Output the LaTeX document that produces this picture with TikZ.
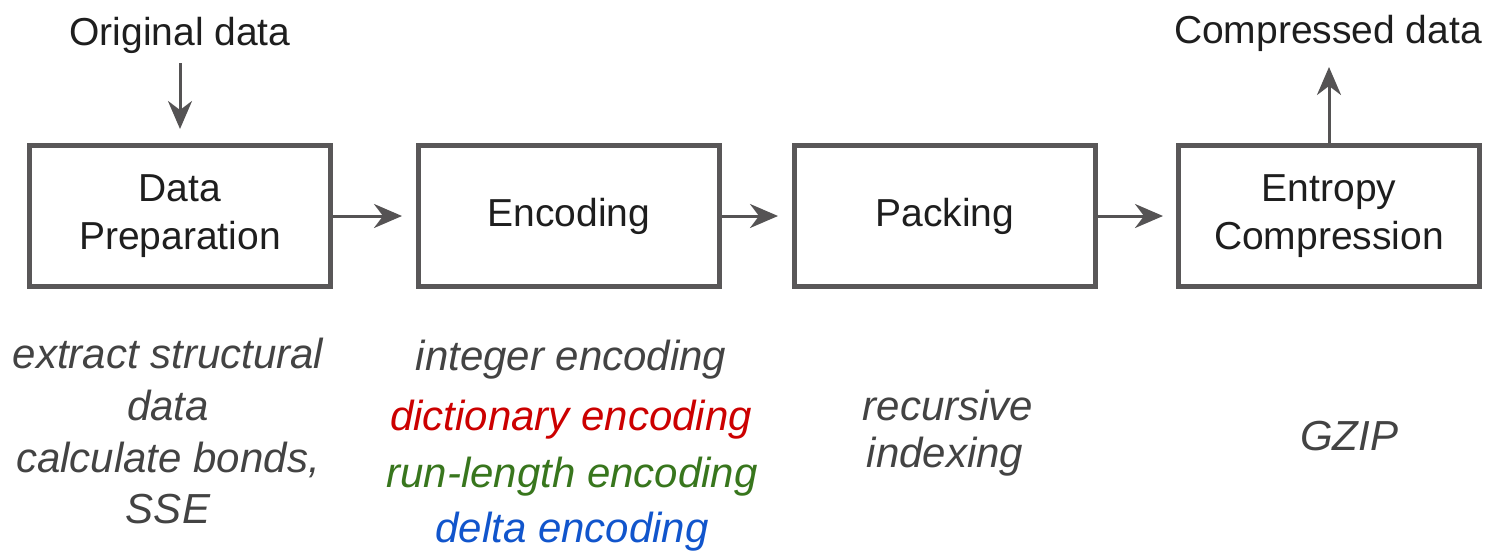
\documentclass[tikz,border=0pt]{standalone}
\usepackage{fontspec}
\setmainfont{Liberation Sans}
\usetikzlibrary{arrows.meta}
\definecolor{boxgray}{HTML}{595758}
\definecolor{arrgray}{HTML}{555354}
\definecolor{txtdark}{HTML}{1E1E1E}
\definecolor{txtgray}{HTML}{434343}
\definecolor{gred}{HTML}{CC0000}
\definecolor{ggreen}{HTML}{38761D}
\definecolor{gblue}{HTML}{1155CC}
\tikzset{
  stagebox/.style={draw=boxgray, line width=5pt, minimum width=301pt, minimum height=141pt,
    inner sep=0pt, align=center, text=txtdark, font=\fontsize{39}{48}\selectfont},
  flow/.style={draw=arrgray, line width=3pt, -{Stealth[length=28pt,width=24pt,inset=9pt]}},
  headtext/.style={anchor=base, inner sep=0pt, text=txtdark, font=\fontsize{39}{47}\selectfont},
  note/.style={anchor=base, inner sep=0pt, font=\fontsize{42}{52}\selectfont\itshape},
}
\begin{document}
\begin{tikzpicture}[x=1pt,y=-1pt]
\useasboundingbox[fill=white] (0,0) rectangle (1493,557);
% boxes
\node[stagebox] (prep) at (180,216) {Data\\Preparation};
\node[stagebox] (enc) at (569,216) {Encoding};
\node[stagebox] (pack) at (945,216) {Packing};
\node[stagebox] (entr) at (1329,216) {Entropy\\Compression};
% top labels
\node[headtext] (orig) at (180,45) {Original data};
\node[headtext] (comp) at (1328,43) {Compressed data};
\coordinate (origend) at (180,63);
\coordinate (compend) at (1329,67);
% arrows
\draw[flow] (origend) -- ([yshift=14pt]prep.north);
\draw[flow] (entr.north) -- (compend);
\draw[flow] (prep.east) -- ([xshift=-14pt]enc.west);
\draw[flow] (enc.east) -- ([xshift=-14pt]pack.west);
\draw[flow] (pack.east) -- ([xshift=-13pt]entr.west);
% notes column 1
\node[note, text=txtgray] (n1a) at (168,368) {extract structural};
\node[note, text=txtgray] (n1b) at (168,420) {data};
\node[note, text=txtgray] (n1c) at (168,472) {calculate bonds,};
\node[note, text=txtgray] (n1d) at (168,523) {SSE};
% notes column 2
\node[note, text=txtgray] (n2a) at (571,370) {integer encoding};
\node[note, text=gred] (n2b) at (571,430) {dictionary encoding};
\node[note, text=ggreen] (n2c) at (572,487) {run-length encoding};
\node[note, text=gblue] (n2d) at (572,542) {delta encoding};
% notes column 3
\node[note, text=txtgray] (n3a) at (948,420) {recursive};
\node[note, text=txtgray] (n3b) at (945,467) {indexing};
% notes column 4
\node[note, text=txtgray] (n4a) at (1349,450) {GZIP};
\end{tikzpicture}
\end{document}
